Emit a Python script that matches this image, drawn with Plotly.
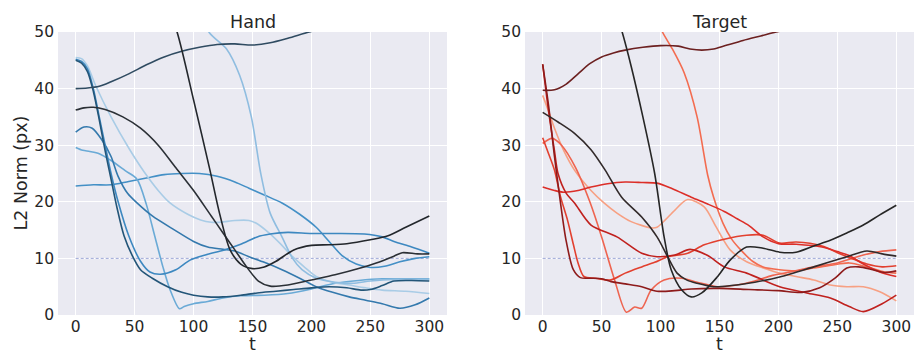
import plotly.graph_objects as go

# ---------------- Hand (blue) series ----------------
hand_h1_t = [0, 10, 20, 30, 45, 60, 75, 90, 105, 120, 135, 150, 165, 180, 198, 220]
hand_h1_y = [40, 40.1, 40.4, 41.2, 42.6, 44.2, 45.6, 46.6, 47.3, 47.8, 47.9, 47.7, 48.1, 48.9, 50, 51.2]

hand_h2_t = [75, 86, 100, 114, 122, 131, 140, 150, 160, 170, 185, 200, 215, 230, 250, 265, 280, 300]
hand_h2_y = [56, 50, 38, 25.5, 18, 11.5, 9, 8.2, 8.5, 9.5, 11.5, 12.3, 12.4, 12.6, 13.3, 14, 15.5, 17.5]

hand_h3_t = [0, 7, 15, 25, 40, 55, 70, 85, 100, 115, 125, 135, 145, 155, 165, 180, 200, 220, 240, 255, 270, 277, 290, 300]
hand_h3_y = [36.2, 36.6, 36.7, 36.3, 35, 33, 30, 26, 22, 17.5, 14.5, 11.5, 8.5, 6, 5.1, 5.3, 6.2, 7.1, 8.2, 9.2, 10.4, 11, 10.8, 10.8]

hand_h4_t = [105, 113, 128, 139, 149, 157, 165, 175, 184, 192, 204, 220, 235, 250, 270, 300]
hand_h4_y = [55, 50, 47, 42.4, 35, 25, 18, 13.8, 10, 8, 6.5, 5.8, 5.6, 6, 6.3, 6.3]

hand_h5_t = [0, 5, 10, 17, 30, 45, 58, 70, 80, 95, 106, 115, 123, 135, 147, 155, 164, 175, 184, 195, 204, 218, 232, 246, 260, 280, 300]
hand_h5_y = [45.5, 45.3, 44, 40.5, 35, 29.5, 25.3, 22, 19.8, 17.8, 16.8, 16.4, 16.4, 16.7, 16.7, 16, 14.5, 12.3, 10.3, 8.3, 6.8, 5.8, 5.3, 4.8, 4.4, 4.2, 3.8]

hand_h6_t = [0, 5, 10, 15, 20, 25, 30, 35, 41, 48, 55, 65, 78, 90, 100, 112, 125, 140, 154, 170, 185, 200, 215, 230, 242, 250, 260, 270, 285, 300]
hand_h6_y = [45, 44.5, 43, 39.5, 34.5, 29, 24, 19, 14, 10.5, 8, 6.5, 5, 4, 3.5, 3.2, 3.2, 3.5, 3.9, 4.2, 4.5, 4.8, 5, 4.8, 4.4, 4.5, 5.2, 6, 6.1, 6.0]

hand_h7_t = [0, 5, 10, 15, 20, 25, 30, 36, 45, 55, 63, 72, 85, 97, 110, 126, 140, 154, 165, 180, 200, 220, 245, 260, 270, 285, 300]
hand_h7_y = [45.2, 44.8, 43.5, 40, 35, 30, 25, 20, 14, 9.5, 7.6, 7.2, 8, 9.7, 10.6, 11.5, 12.5, 13.8, 14.3, 14.6, 14.4, 14.4, 14.3, 13.8, 13, 12, 10.9]

hand_h8_t = [0, 7, 14, 22, 30, 36, 44, 52, 65, 84, 100, 112, 125, 135, 147, 160, 175, 190, 204, 218, 232, 246, 260, 275, 288, 300]
hand_h8_y = [32.3, 33.2, 33, 31, 28, 24.5, 21.5, 19.8, 17.5, 15, 13, 12, 11.6, 11.3, 10.3, 9.3, 8, 6.5, 5, 4, 3.2, 2.6, 2, 1.2, 1.8, 3.0]

hand_h9_t = [0, 6, 12, 20, 30, 42, 52, 60, 67, 74, 80, 88, 92, 100, 112, 125, 140, 160, 180, 200, 220, 240, 260, 280, 300]
hand_h9_y = [29.6, 29.1, 28.9, 28.5, 27.3, 25.5, 24, 19.5, 14, 8.5, 4.5, 1.1, 1.5, 2, 2.4, 3, 3.4, 3.5, 3.8, 4.6, 5.6, 6.1, 6.4, 6.4, 6.4]

hand_h10_t = [0, 15, 30, 45, 60, 75, 90, 105, 120, 135, 147, 160, 175, 190, 204, 215, 226, 238, 250, 262, 275, 288, 300]
hand_h10_y = [22.8, 23, 23, 23.6, 24.2, 24.8, 25, 25, 24.5, 23.5, 22.4, 21.2, 19.8, 17.8, 15.5, 13, 10.5, 9, 8.4, 8.6, 9.4, 10, 10.3]

# ---------------- Target (red) series ----------------
tgt_t1_t = [0, 10, 20, 30, 40, 50, 60, 70, 85, 100, 115, 125, 135, 145, 155, 170, 185, 198, 220, 260, 300]
tgt_t1_y = [39.7, 39.8, 40.8, 42.6, 44.4, 45.6, 46.3, 46.8, 47.3, 47.6, 47.5, 47, 46.8, 47, 47.6, 48.5, 49.3, 50, 51, 53, 55]

tgt_t2_t = [55, 67, 75, 85, 95, 103, 109, 118, 126, 135, 148, 159, 173, 187, 201, 215, 230, 244, 258, 272, 286, 300]
tgt_t2_y = [58, 50.3, 44, 35, 25, 13.8, 8, 4.4, 3.2, 3.9, 6.7, 9.7, 12, 11.8, 11.1, 11.1, 12.2, 13.2, 14.5, 15.9, 17.7, 19.4]

tgt_t3_t = [0, 13, 27, 41, 53, 67, 84, 97, 106, 114, 122, 131, 145, 160, 180, 201, 230, 258, 275, 288, 300]
tgt_t3_y = [35.8, 34.1, 32.1, 29.2, 25.6, 20.8, 17.3, 13.8, 10.3, 7.4, 6.2, 5.6, 5, 5.2, 5.8, 6.7, 8.5, 10.3, 11.3, 10.8, 10.4]

tgt_t4_t = [92, 101.6, 110, 120, 131, 140, 145, 153, 160, 168, 178, 187, 201, 215, 230, 245, 260, 275, 290, 300]
tgt_t4_y = [55, 50, 47, 42.8, 35, 24.7, 20.8, 16.2, 13.5, 11.5, 9.5, 8.5, 8, 7.8, 8.3, 8.8, 9.2, 8.5, 7.6, 7.4]

tgt_t5_t = [0, 5, 10, 18, 27, 41, 52, 63, 75, 92, 97, 104, 112, 123, 137, 147, 159, 173, 187, 201, 215, 230, 244, 258, 272, 286, 300]
tgt_t5_y = [38.8, 36, 33, 29, 25.6, 22, 19.8, 18, 16.5, 15.4, 15.5, 16.8, 18.5, 20.4, 19.1, 15.6, 11.5, 9.4, 8.3, 7.4, 6.8, 6.2, 5.3, 5, 5, 4.1, 2.5]

tgt_t6_t = [0, 8, 16, 28, 40, 50, 61, 71, 78, 84, 92, 103, 118, 131, 148, 165, 180, 195, 210, 230, 250, 272, 286, 300]
tgt_t6_y = [30.3, 31.2, 30, 26, 20, 13.8, 6.2, 0.5, 1.4, 1.2, 4.4, 6.2, 6.5, 5.8, 5, 5.3, 6, 7, 7.6, 8.5, 9.2, 10.6, 11.2, 11.5]

tgt_t7_t = [0, 10, 18, 30, 41, 55, 70, 85, 97, 110, 126, 140, 154, 165, 175, 187, 200, 215, 237, 250, 260, 272, 286, 300]
tgt_t7_y = [22.6, 22, 21.7, 22, 22.6, 23.2, 23.5, 23.4, 23.3, 22.3, 20.8, 19.6, 18.3, 17, 15.8, 13.8, 12.6, 12.5, 12, 11.2, 10.5, 9, 7.6, 6.8]

tgt_t8_t = [0, 5, 10, 13, 20, 27, 41, 63, 84, 97, 112, 125, 140, 154, 173, 201, 224, 244, 260, 272, 288, 300]
tgt_t8_y = [44.3, 36, 29, 25, 21.5, 19.8, 15.9, 13.8, 10.9, 10.3, 10.6, 11.6, 10.5, 8.5, 7.4, 5, 3.9, 3, 1.5, 0.6, 2, 3.5]

tgt_t9_t = [0, 5, 10, 15, 20, 26, 32, 40, 50, 58, 70, 84, 97, 112, 126, 150, 175, 200, 220, 235, 248, 258, 268, 280, 290, 300]
tgt_t9_y = [44.3, 37, 28, 20, 13, 8, 6.6, 6.5, 6.4, 5.9, 5.5, 5, 4.2, 4.3, 4.6, 4.7, 4.5, 4.3, 4, 4.8, 6.5, 8.3, 8.5, 8, 7.5, 7.8]

tgt_t10_t = [0, 5, 10, 15, 21, 26, 30, 35, 45, 58, 70, 84, 95, 106, 123, 137, 154, 173, 187, 201, 215, 237, 250, 262, 275, 288, 300]
tgt_t10_y = [31.3, 28.5, 25.6, 21, 16.8, 12.5, 9.2, 6.8, 6.5, 6.2, 7.4, 8.5, 9.3, 10.3, 10.9, 12.4, 13.4, 14.1, 14.1, 12.7, 12.9, 12.2, 11, 10, 9, 8.5, 8.7]

threshold = 10
x_ticks = [0, 50, 100, 150, 200, 250, 300]
y_ticks = [0, 10, 20, 30, 40, 50]

hand_series = [
    (hand_h10_t, hand_h10_y, "#4490c6"),
    (hand_h9_t, hand_h9_y, "#6aaad6"),
    (hand_h5_t, hand_h5_y, "#a9cce6"),
    (hand_h4_t, hand_h4_y, "#8fbde0"),
    (hand_h8_t, hand_h8_y, "#3479ad"),
    (hand_h7_t, hand_h7_y, "#3d88c0"),
    (hand_h6_t, hand_h6_y, "#235578"),
    (hand_h1_t, hand_h1_y, "#2f4b61"),
    (hand_h3_t, hand_h3_y, "#2b3036"),
    (hand_h2_t, hand_h2_y, "#23272c"),
]
target_series = [
    (tgt_t5_t, tgt_t5_y, "#f7a083"),
    (tgt_t4_t, tgt_t4_y, "#f36c50"),
    (tgt_t6_t, tgt_t6_y, "#ee6450"),
    (tgt_t10_t, tgt_t10_y, "#e2402f"),
    (tgt_t7_t, tgt_t7_y, "#dc2e28"),
    (tgt_t8_t, tgt_t8_y, "#c0211e"),
    (tgt_t9_t, tgt_t9_y, "#8e1b1b"),
    (tgt_t1_t, tgt_t1_y, "#6c2020"),
    (tgt_t3_t, tgt_t3_y, "#322a2a"),
    (tgt_t2_t, tgt_t2_y, "#262626"),
]

fig = go.Figure()
for xa, ya, series in [("x", "y", hand_series), ("x2", "y2", target_series)]:
    fig.add_trace(go.Scatter(x=[0, 300], y=[threshold, threshold], mode="lines",
                             line=dict(color="rgba(95,110,190,0.6)", width=1, dash="3px,2px"),
                             xaxis=xa, yaxis=ya, showlegend=False, hoverinfo="skip"))
    for t, y, c in series:
        fig.add_trace(go.Scatter(x=t, y=y, mode="lines",
                                 line=dict(color=c, width=1.6, shape="spline", smoothing=0.8),
                                 xaxis=xa, yaxis=ya, showlegend=False))

W, H = 914, 356
ml, mr, mt, mb = 58, 0, 32, 41
pw = W - ml - mr
d1 = [0, 389 / pw]
d2 = [467 / pw, 1]

font_col = "#262626"
axis_common = dict(showgrid=True, gridcolor="white", gridwidth=1, zeroline=False,
                   showline=False, ticks="", tickfont=dict(size=15.5, color=font_col),
                   automargin=False)

def ann(text, x, y, **kw):
    base = dict(text=text, x=x, y=y, xref="paper", yref="paper", showarrow=False,
                font=dict(size=17.5, color=font_col))
    base.update(kw)
    return base

fig.update_layout(
    width=W, height=H,
    margin=dict(l=ml, r=mr, t=mt, b=mb),
    paper_bgcolor="white", plot_bgcolor="#EAEAF2",
    font=dict(family="DejaVu Sans", color=font_col),
    xaxis=dict(domain=d1, range=[-15, 315], tickvals=x_ticks, anchor="y",
               ticklabelstandoff=0, **axis_common),
    yaxis=dict(domain=[0, 1], range=[0, 50], tickvals=y_ticks, anchor="x",
               ticklabelstandoff=3, **axis_common),
    xaxis2=dict(domain=d2, range=[-15, 315], tickvals=x_ticks, anchor="y2",
                ticklabelstandoff=0, **axis_common),
    yaxis2=dict(domain=[0, 1], range=[0, 50], tickvals=y_ticks, anchor="x2",
                ticklabelstandoff=3, **axis_common),
    annotations=[
        ann("Hand", (d1[0] + d1[1]) / 2, 1, xanchor="center", yanchor="bottom", yshift=-2),
        ann("Target", (d2[0] + d2[1]) / 2, 1, xanchor="center", yanchor="bottom", yshift=-2),
        ann("t", (d1[0] + d1[1]) / 2, 0, xanchor="center", yanchor="bottom", yshift=-41),
        ann("t", (d2[0] + d2[1]) / 2, 0, xanchor="center", yanchor="bottom", yshift=-41),
        ann("L2 Norm (px)", 0, 0.5, xanchor="center", yanchor="middle", xshift=-38, textangle=-90),
    ],
)

fig.write_html("out.html", config={"displayModeBar": False},
               post_script="document.body.style.margin='0px';document.body.style.overflow='hidden';")
